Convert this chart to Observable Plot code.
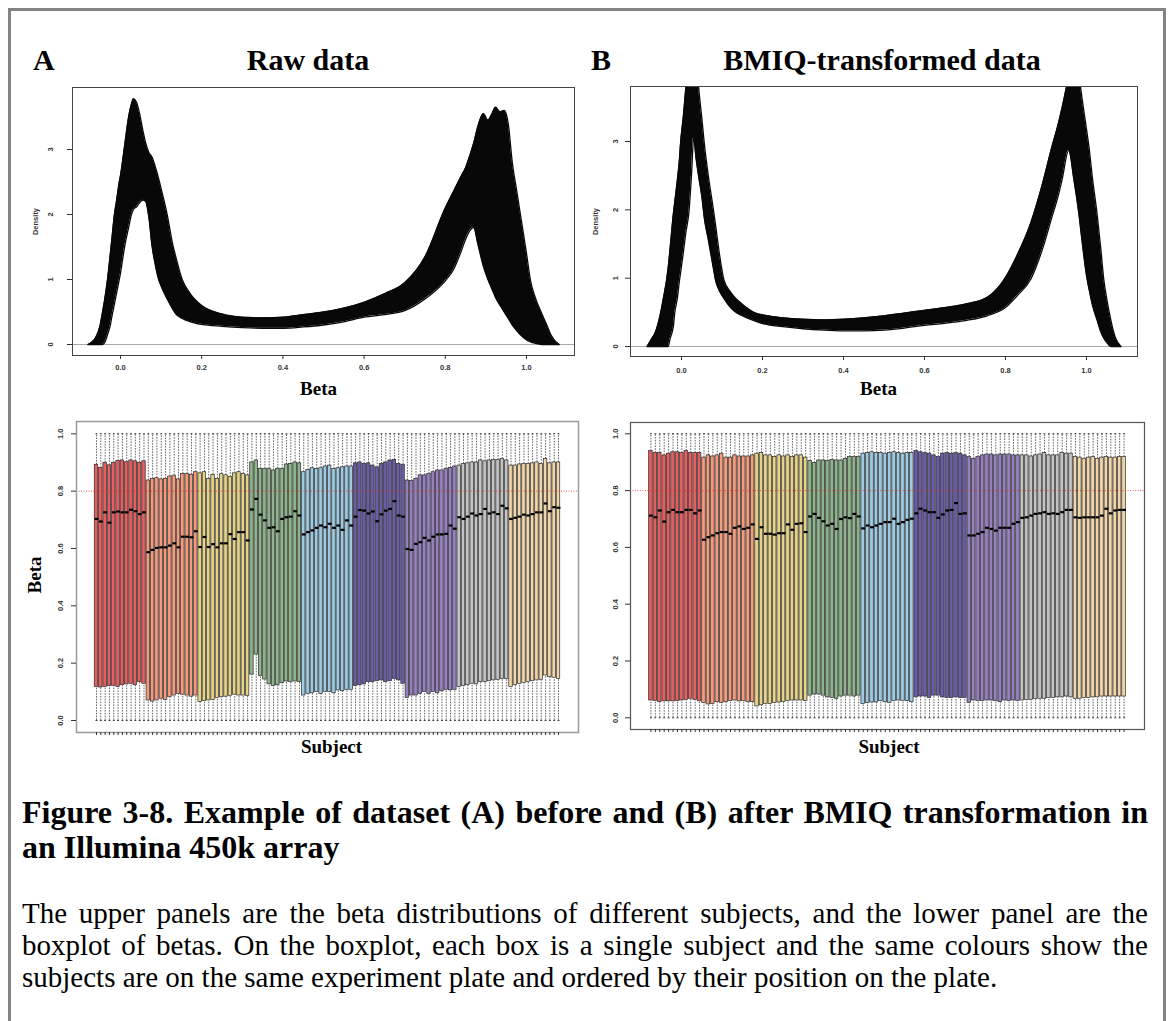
<!DOCTYPE html>
<html>
<head>
<meta charset="utf-8">
<script src="https://cdn.jsdelivr.net/npm/d3@7"></script>
<script src="https://cdn.jsdelivr.net/npm/@observablehq/plot@0.6"></script>
<style>
html,body{margin:0;padding:0;background:#fff;overflow:hidden;}
#page{position:relative;width:1169px;height:1021px;overflow:hidden;background:#fff;}
#frame{position:absolute;left:8px;top:8px;width:1152px;height:1060px;border:3px solid #838383;box-sizing:content-box;}
.t{position:absolute;white-space:nowrap;font-family:"Liberation Serif","Times New Roman",serif;color:#000;}
.h{font-size:30px;line-height:30px;font-weight:bold;}
.cap{font-size:32px;line-height:35px;font-weight:bold;left:22px;width:1126px;}
.par{font-size:29px;line-height:32px;left:22px;width:1126px;}
.j{text-align:justify;text-align-last:justify;}
</style>
</head>
<body>
<div id="page">
  <div id="frame"></div>
  <div class="t h" style="left:33px;top:45px;">A</div>
  <div class="t h" style="left:108px;top:45px;width:400px;text-align:center;">Raw data</div>
  <div class="t h" style="left:591px;top:45px;">B</div>
  <div class="t h" style="left:682px;top:45px;width:400px;text-align:center;">BMIQ-transformed data</div>
  <div class="t cap j" style="top:795px;">Figure 3-8. Example of dataset (A) before and (B) after BMIQ transformation in</div>
  <div class="t cap" style="top:830px;">an Illumina 450k array</div>
  <div class="t par j" style="top:897px;">The upper panels are the beta distributions of different subjects, and the lower panel are the</div>
  <div class="t par j" style="top:929px;">boxplot of betas. On the boxplot, each box is a single subject and the same colours show the</div>
  <div class="t par" style="top:961px;">subjects are on the same experiment plate and ordered by their position on the plate.</div>
</div>
<script>
// ---------- tick values ----------
const densXTicks = [0, 0.2, 0.4, 0.6, 0.8, 1.0];
const densYTicks = [0, 1, 2, 3];
const boxYTicks = [0, 0.2, 0.4, 0.6, 0.8, 1.0];

// ---------- density envelopes ----------
const rawX = [-0.08,-0.07,-0.06,-0.05,-0.045,-0.04,-0.032,-0.025,-0.02,-0.015,-0.01,-0.003,0.0,0.01,0.02,0.027,0.032,0.04,0.047,0.055,0.062,0.07,0.078,0.085,0.094,0.1,0.115,0.13,0.135,0.152,0.172,0.2,0.25,0.3,0.35,0.4,0.45,0.5,0.55,0.6,0.65,0.7,0.75,0.8,0.82,0.84,0.85,0.86,0.87,0.88,0.894,0.905,0.915,0.924,0.935,0.945,0.955,0.965,0.975,0.985,1.0,1.01,1.02,1.038,1.05,1.06,1.08];
const rawUpper = [0,0.04,0.12,0.3,0.47,0.65,1.0,1.4,1.7,2.0,2.2,2.5,2.6,3.05,3.5,3.7,3.78,3.72,3.55,3.3,3.1,2.95,2.88,2.75,2.55,2.4,2.0,1.5,1.38,1.0,0.78,0.6,0.47,0.42,0.41,0.42,0.46,0.5,0.56,0.65,0.78,0.95,1.35,2.1,2.35,2.6,2.72,2.9,3.1,3.35,3.55,3.45,3.55,3.65,3.58,3.6,3.4,2.8,2.4,2.0,1.4,0.98,0.75,0.47,0.3,0.15,0];
const rawLower = [0,0,0,0,0,0.02,0.15,0.3,0.47,0.62,0.78,1.0,1.1,1.5,1.8,2.0,2.08,2.12,2.18,2.22,2.2,1.95,1.5,1.25,1.0,0.9,0.7,0.53,0.48,0.4,0.35,0.31,0.28,0.26,0.25,0.25,0.27,0.3,0.35,0.42,0.46,0.52,0.7,0.98,1.15,1.45,1.62,1.75,1.8,1.55,1.2,1.0,0.85,0.72,0.6,0.5,0.4,0.3,0.22,0.15,0.07,0.04,0.02,0,0,0,0];

const bmiqX = [-0.085,-0.075,-0.065,-0.052,-0.045,-0.037,-0.033,-0.028,-0.02,-0.017,-0.01,-0.005,-0.003,0.005,0.011,0.018,0.025,0.03,0.036,0.042,0.05,0.057,0.065,0.08,0.084,0.095,0.105,0.121,0.13,0.15,0.187,0.203,0.25,0.3,0.35,0.4,0.45,0.5,0.55,0.6,0.65,0.7,0.755,0.8,0.83,0.862,0.89,0.915,0.93,0.94,0.956,0.97,0.981,0.985,1.002,1.006,1.015,1.026,1.035,1.043,1.05,1.06,1.072,1.085];
const bmiqUpper = [0,0.1,0.2,0.48,0.7,0.97,1.15,1.45,1.95,2.1,2.45,2.75,2.93,3.4,3.81,4.2,4.4,4.45,4.3,3.81,3.35,2.93,2.55,1.95,1.78,1.3,0.97,0.8,0.73,0.62,0.48,0.46,0.42,0.4,0.39,0.4,0.42,0.45,0.49,0.53,0.57,0.62,0.72,1.01,1.35,1.8,2.35,2.93,3.25,3.5,3.95,4.3,4.0,3.81,3.1,2.93,2.45,1.95,1.45,0.97,0.7,0.39,0.12,0];
const bmiqLower = [0,0,0,0,0,0,0,0.12,0.3,0.48,0.72,0.97,1.05,1.4,1.68,1.95,2.55,3.06,2.75,2.5,2.2,1.85,1.6,1.1,0.97,0.8,0.7,0.57,0.52,0.45,0.36,0.33,0.29,0.26,0.24,0.23,0.23,0.24,0.27,0.31,0.34,0.38,0.45,0.57,0.75,0.98,1.4,1.9,2.2,2.45,2.87,2.4,1.95,1.75,0.97,0.85,0.6,0.39,0.22,0.12,0.06,0,0,0];

// ---------- boxplots: 9 plates x 12 subjects ----------
const plateColors = ["#E85E5E","#F59A7B","#E6D386","#8DB48A","#9CCBE3","#6A5CA8","#9680C2","#C3C3C3","#F2D6A8"];
const perPlate = 12;
const subjects = d3.range(1, 109);
const whiskerLow = 0.0, whiskerHigh = 1.0;
const refLine = 0.8;

const rawQ3 = [
0.892,0.881,0.899,0.890,0.899,0.905,0.907,0.901,0.907,0.904,0.899,0.904,
0.837,0.843,0.845,0.841,0.843,0.851,0.854,0.841,0.860,0.860,0.857,0.866,
0.862,0.866,0.843,0.857,0.843,0.859,0.855,0.849,0.862,0.866,0.860,0.855,
0.900,0.907,0.878,0.878,0.878,0.872,0.878,0.878,0.893,0.895,0.900,0.897,
0.866,0.874,0.880,0.877,0.880,0.886,0.889,0.877,0.880,0.883,0.886,0.886,
0.897,0.900,0.895,0.897,0.889,0.883,0.895,0.900,0.907,0.909,0.895,0.892,
0.837,0.835,0.843,0.855,0.855,0.860,0.866,0.872,0.872,0.878,0.881,0.886,
0.889,0.895,0.897,0.900,0.900,0.907,0.904,0.907,0.909,0.909,0.912,0.907,
0.889,0.889,0.893,0.895,0.895,0.897,0.900,0.895,0.912,0.897,0.900,0.900];
const rawMed = [
0.703,0.694,0.726,0.690,0.726,0.729,0.726,0.726,0.735,0.730,0.720,0.726,
0.587,0.595,0.602,0.604,0.604,0.610,0.618,0.604,0.641,0.641,0.639,0.660,
0.605,0.640,0.605,0.615,0.604,0.618,0.618,0.650,0.633,0.657,0.657,0.628,
0.736,0.773,0.718,0.698,0.672,0.674,0.660,0.703,0.709,0.711,0.730,0.715,
0.649,0.657,0.663,0.672,0.680,0.674,0.686,0.672,0.680,0.665,0.698,0.680,
0.711,0.734,0.732,0.722,0.729,0.695,0.719,0.732,0.738,0.765,0.715,0.711,
0.598,0.595,0.616,0.622,0.637,0.628,0.641,0.649,0.649,0.651,0.680,0.669,
0.709,0.703,0.711,0.722,0.715,0.720,0.738,0.722,0.726,0.720,0.749,0.740,
0.703,0.707,0.711,0.718,0.715,0.720,0.726,0.726,0.757,0.730,0.744,0.742];
const rawQ1 = [
0.117,0.115,0.117,0.120,0.121,0.117,0.123,0.126,0.128,0.123,0.134,0.128,
0.070,0.066,0.070,0.076,0.072,0.081,0.087,0.093,0.090,0.087,0.083,0.087,
0.064,0.068,0.070,0.072,0.079,0.081,0.083,0.086,0.090,0.087,0.087,0.086,
0.160,0.230,0.155,0.143,0.126,0.120,0.123,0.130,0.136,0.134,0.136,0.134,
0.087,0.093,0.095,0.099,0.093,0.099,0.099,0.095,0.105,0.102,0.107,0.107,
0.120,0.123,0.126,0.134,0.134,0.137,0.140,0.134,0.137,0.145,0.140,0.128,
0.079,0.087,0.087,0.093,0.099,0.093,0.099,0.095,0.102,0.107,0.105,0.107,
0.117,0.120,0.123,0.128,0.126,0.134,0.134,0.137,0.140,0.142,0.145,0.145,
0.117,0.123,0.128,0.131,0.134,0.137,0.140,0.142,0.157,0.151,0.149,0.145];

const bmiqQ3 = [
0.939,0.932,0.932,0.924,0.930,0.935,0.935,0.932,0.939,0.932,0.932,0.932,
0.916,0.924,0.920,0.924,0.930,0.916,0.916,0.924,0.920,0.920,0.920,0.924,
0.930,0.932,0.924,0.924,0.918,0.924,0.920,0.924,0.918,0.924,0.924,0.916,
0.904,0.897,0.906,0.906,0.904,0.908,0.906,0.906,0.912,0.918,0.918,0.918,
0.930,0.932,0.935,0.932,0.932,0.930,0.932,0.935,0.932,0.930,0.932,0.932,
0.939,0.935,0.932,0.930,0.924,0.918,0.930,0.932,0.930,0.932,0.930,0.924,
0.918,0.912,0.918,0.924,0.927,0.927,0.924,0.927,0.927,0.927,0.924,0.924,
0.924,0.924,0.920,0.924,0.927,0.932,0.924,0.924,0.924,0.932,0.930,0.930,
0.918,0.916,0.912,0.916,0.918,0.912,0.916,0.918,0.916,0.916,0.918,0.918];
const bmiqMed = [
0.712,0.706,0.730,0.691,0.724,0.732,0.724,0.724,0.732,0.732,0.720,0.730,
0.627,0.636,0.642,0.650,0.654,0.654,0.648,0.669,0.674,0.665,0.669,0.681,
0.630,0.671,0.648,0.648,0.645,0.650,0.650,0.681,0.662,0.683,0.685,0.654,
0.709,0.718,0.704,0.692,0.677,0.683,0.665,0.700,0.706,0.703,0.718,0.709,
0.667,0.677,0.671,0.677,0.683,0.689,0.689,0.701,0.683,0.689,0.697,0.701,
0.720,0.736,0.730,0.724,0.724,0.704,0.716,0.730,0.732,0.756,0.718,0.720,
0.642,0.642,0.648,0.654,0.669,0.665,0.659,0.669,0.669,0.669,0.683,0.689,
0.704,0.706,0.712,0.718,0.720,0.724,0.718,0.720,0.718,0.724,0.732,0.732,
0.706,0.704,0.706,0.706,0.706,0.706,0.712,0.736,0.720,0.730,0.732,0.732];
const bmiqQ1 = [
0.061,0.059,0.056,0.058,0.058,0.058,0.059,0.061,0.063,0.067,0.063,0.058,
0.052,0.047,0.049,0.055,0.052,0.055,0.059,0.061,0.058,0.059,0.055,0.055,
0.040,0.044,0.049,0.049,0.052,0.054,0.056,0.059,0.061,0.061,0.061,0.059,
0.078,0.082,0.082,0.078,0.072,0.070,0.067,0.075,0.078,0.078,0.075,0.078,
0.049,0.052,0.054,0.054,0.059,0.055,0.052,0.059,0.061,0.059,0.059,0.055,
0.072,0.075,0.075,0.070,0.078,0.078,0.072,0.070,0.070,0.072,0.070,0.070,
0.052,0.061,0.059,0.059,0.061,0.061,0.059,0.055,0.061,0.059,0.061,0.059,
0.061,0.063,0.063,0.066,0.067,0.067,0.070,0.070,0.072,0.072,0.075,0.072,
0.067,0.067,0.070,0.070,0.072,0.072,0.075,0.075,0.075,0.075,0.075,0.075];

// ---------- helpers ----------
const SANS = "Liberation Sans, Arial, sans-serif";
const SERIF = "Liberation Serif, Times New Roman, serif";
const page = document.getElementById("page");
function place(svg, left, top) {
  svg.style.position = "absolute";
  svg.style.left = left + "px";
  svg.style.top = top + "px";
  page.appendChild(svg);
}
const tickText = {fontSize: 7.5, fontWeight: "bold", fill: "#333"};

function densityPlot(c) {
  const rows = c.xs.map((x, i) => ({x, lo: c.lo[i], hi: c.hi[i]}));
  return Plot.plot({
    width: c.width, height: c.height,
    marginLeft: c.mL, marginRight: c.mR, marginTop: c.mT, marginBottom: c.mB,
    x: {type: "linear", domain: c.xDomain, axis: null},
    y: {type: "linear", domain: c.yDomain, axis: null},
    style: {background: "transparent", overflow: "visible", fontFamily: SANS},
    marks: [
      Plot.ruleY([0], {stroke: "#a8a8a8", strokeWidth: 1}),
      Plot.areaY(rows, {x: "x", y1: "lo", y2: "hi", fill: "#080808", curve: "monotone-x", clip: true}),
      Plot.line(rows, {x: "x", y: "hi", stroke: "#080808", strokeWidth: 1.3, curve: "monotone-x", clip: true}),
      Plot.line(rows, {x: "x", y: "lo", stroke: "#080808", strokeWidth: 1.3, curve: "monotone-x", clip: true}),
      Plot.frame({stroke: "#444", strokeWidth: 1}),
      Plot.axisX({ticks: densXTicks, tickSize: 4, tickPadding: c.xPad, tickFormat: d => d.toFixed(1), fontSize: 7.5, fontWeight: "bold", color: "#333", label: null}),
      Plot.axisY({ticks: densYTicks, tickSize: 5, tickFormat: () => "", color: "#333", label: null}),
      Plot.text(densYTicks, {y: d => d, text: d => String(d), frameAnchor: "left", dx: c.yLabDx, rotate: -90, textAnchor: "middle", lineAnchor: "middle", ...tickText}),
      Plot.text(["Density"], {text: d => d, frameAnchor: "left", dx: c.densDx, rotate: -90, textAnchor: "middle", lineAnchor: "middle", ...tickText}),
      Plot.text(["Beta"], {text: d => d, frameAnchor: "bottom", dx: c.betaDx, dy: c.betaDy, lineAnchor: "bottom", fontFamily: SERIF, fontWeight: "bold", fontSize: 19, fill: "#000"})
    ]
  });
}

function boxPlot(c) {
  const rows = subjects.map((s, k) => ({s, q1: c.q1[k], med: c.med[k], q3: c.q3[k], col: plateColors[Math.floor(k / perPlate)]}));
  const marks = [
    Plot.ruleX(rows, {x: "s", y1: () => whiskerLow, y2: "q1", stroke: "#333", strokeWidth: 0.75, strokeDasharray: "1.6,1.2"}),
    Plot.ruleX(rows, {x: "s", y1: "q3", y2: () => whiskerHigh, stroke: "#333", strokeWidth: 0.75, strokeDasharray: "1.6,1.2"}),
    Plot.link(rows, {x1: d => d.s - 0.22, x2: d => d.s + 0.22, y1: () => whiskerLow, y2: () => whiskerLow, stroke: "#222", strokeWidth: 0.9}),
    Plot.link(rows, {x1: d => d.s - 0.22, x2: d => d.s + 0.22, y1: () => whiskerHigh, y2: () => whiskerHigh, stroke: "#222", strokeWidth: 0.9}),
    Plot.rect(rows, {x1: d => d.s - 0.4, x2: d => d.s + 0.4, y1: "q1", y2: "q3", fill: "col", stroke: "#2a2a2a", strokeWidth: 0.7}),
    Plot.link(rows, {x1: d => d.s - 0.45, x2: d => d.s + 0.45, y1: "med", y2: "med", stroke: "#000", strokeWidth: 2.2}),
    Plot.ruleY([refLine], {stroke: "#e0302a", strokeWidth: 0.8, strokeDasharray: "1,1.5"}),
    Plot.frame({stroke: c.frameStroke, strokeWidth: c.frameWidth}),
    Plot.axisX({ticks: subjects, tickSize: 3, tickFormat: () => "", color: "#333", label: null}),
    Plot.axisY({ticks: boxYTicks, tickSize: 5, tickFormat: () => "", color: "#333", label: null}),
    Plot.text(boxYTicks, {y: d => d, text: d => d.toFixed(1), frameAnchor: "left", dx: c.yLabDx, rotate: -90, textAnchor: "middle", lineAnchor: "middle", ...tickText}),
    Plot.text(["Subject"], {text: d => d, frameAnchor: "bottom", dx: c.subDx, dy: c.subDy, lineAnchor: "bottom", fontFamily: SERIF, fontWeight: "bold", fontSize: 19, fill: "#000"})
  ];
  if (c.betaLabel) {
    marks.push(Plot.text(["Beta"], {text: d => d, frameAnchor: "left", dx: c.betaDx, dy: c.betaDy, rotate: -90, textAnchor: "middle", lineAnchor: "bottom", fontFamily: SERIF, fontWeight: "bold", fontSize: 19, fill: "#000"}));
  }
  return Plot.plot({
    width: c.width, height: c.height,
    marginLeft: c.mL, marginRight: c.mR, marginTop: c.mT, marginBottom: c.mB,
    x: {type: "linear", domain: c.xDomain, axis: null},
    y: {type: "linear", domain: c.yDomain, axis: null},
    color: {type: "identity"},
    style: {background: "transparent", overflow: "visible", fontFamily: SANS},
    marks
  });
}

// ---------- panels ----------
place(densityPlot({xs: rawX, lo: rawLower, hi: rawUpper, width: 560, height: 330, mL: 52, mR: 6, mT: 7, mB: 55,
  xDomain: [-0.1182, 1.1182], yDomain: [-0.169, 3.954], xPad: 5, yLabDx: -22, densDx: -37, betaDx: -5, betaDy: 39}), 20, 80);

place(densityPlot({xs: bmiqX, lo: bmiqLower, hi: bmiqUpper, width: 570, height: 330, mL: 50, mR: 13, mT: 6, mB: 54,
  xDomain: [-0.126, 1.126], yDomain: [-0.146, 3.805], xPad: 7, yLabDx: -15, densDx: -35, betaDx: -5.5, betaDy: 38}), 580, 80);

place(boxPlot({q1: rawQ1, med: rawMed, q3: rawQ3, width: 570, height: 350, mL: 56, mR: 12, mT: 11, mB: 28,
  xDomain: [-3.63, 112.63], yDomain: [-0.0419, 1.0429], frameStroke: "#9a9a9a", frameWidth: 1.5,
  yLabDx: -16, subDx: 4, subDy: 20, betaLabel: true, betaDx: -36, betaDy: -2}), 20, 410);

place(boxPlot({q1: bmiqQ1, med: bmiqMed, q3: bmiqQ3, width: 580, height: 350, mL: 50, mR: 16, mT: 12, mB: 31,
  xDomain: [-3.62, 112.62], yDomain: [-0.0412, 1.0398], frameStroke: "#555", frameWidth: 1.2,
  yLabDx: -15, subDx: 1.5, subDy: 23, betaLabel: false}), 580, 410);
</script>
</body>
</html>
